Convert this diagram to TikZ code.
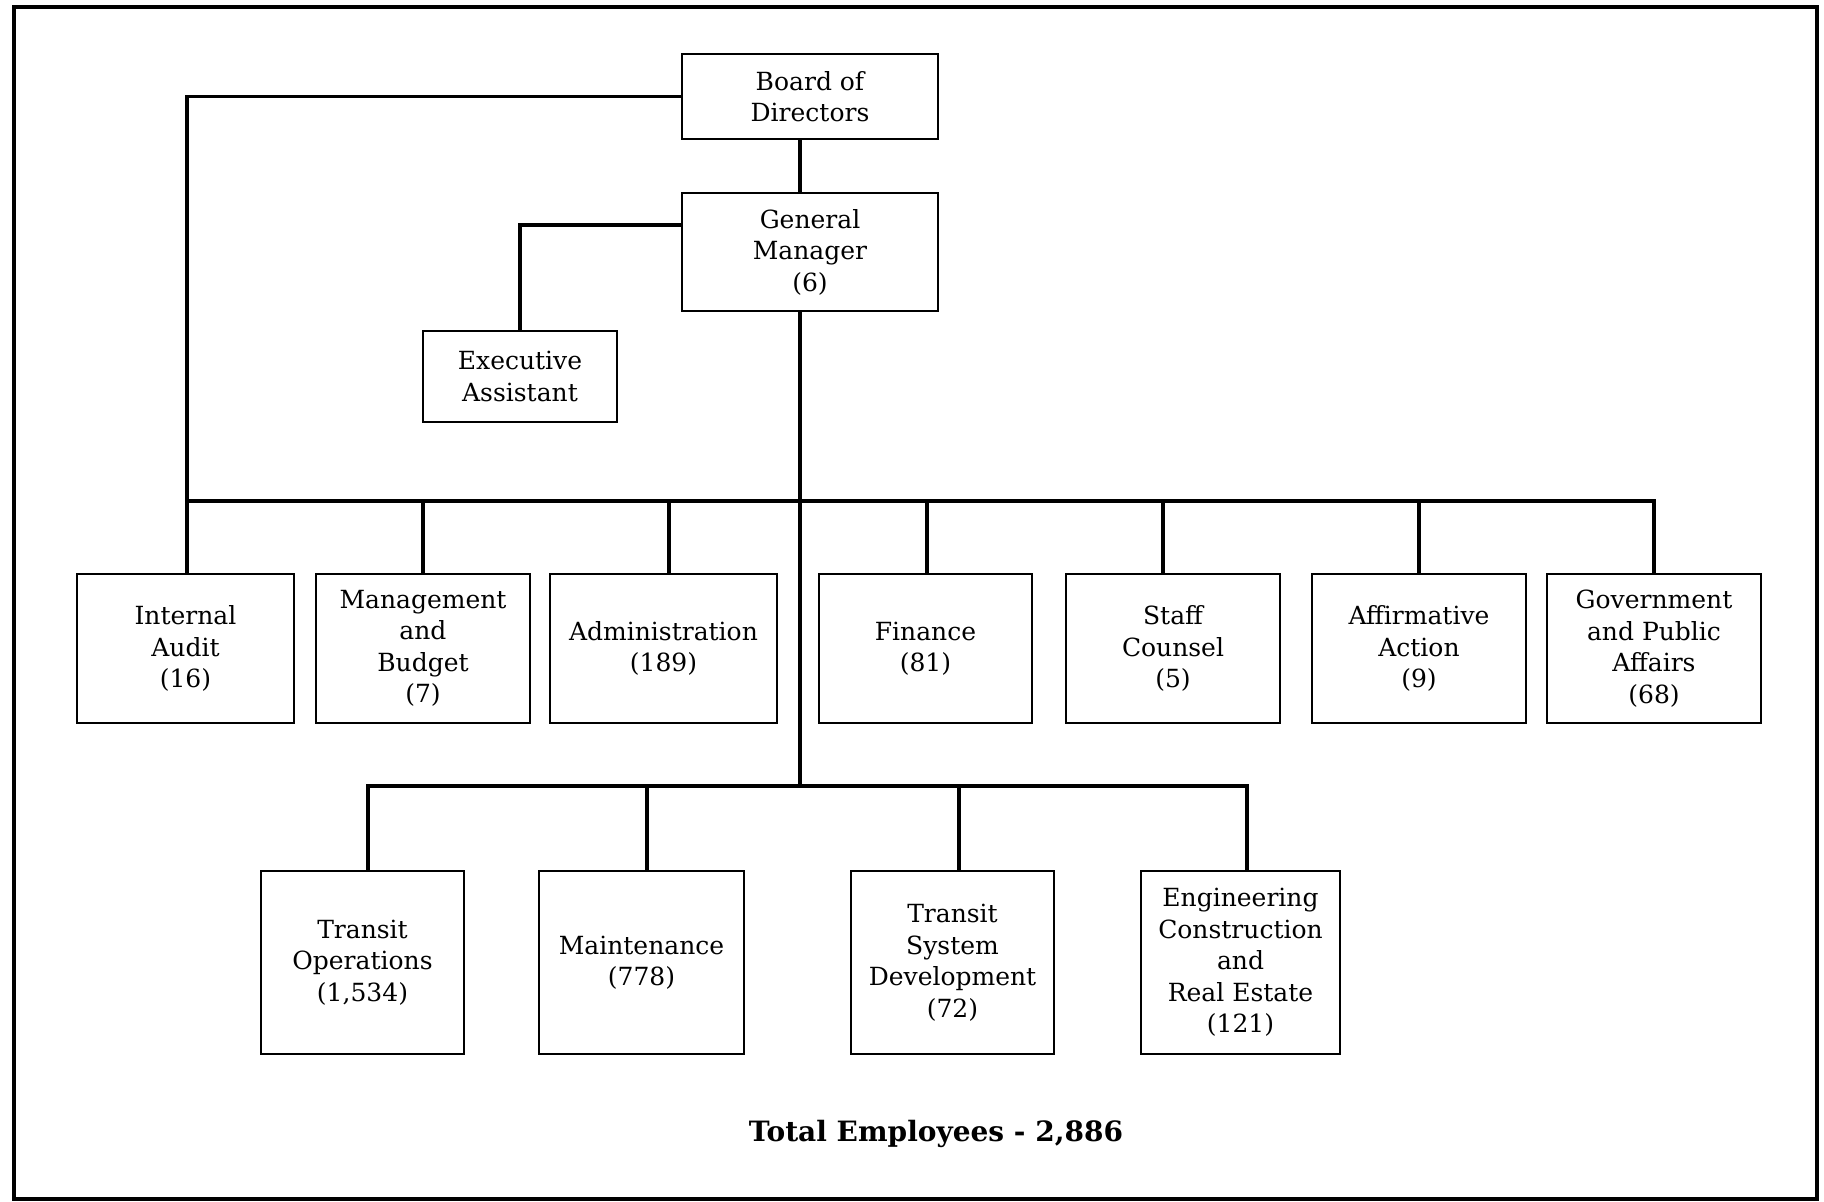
\documentclass[tikz,border=0pt]{standalone}
\usepackage{fontspec}
\setmainfont{DejaVu Serif}
\begin{document}
\begin{tikzpicture}[x=1pt,y=-1pt,
  box/.style={draw=black, line width=1.6pt, inner sep=0pt, align=center,
    font=\fontsize{25}{31.5}\selectfont},
  conn/.style={draw=black, line width=3.2pt},
  frame/.style={draw=black, line width=4pt}]
\useasboundingbox (0,0) rectangle (1824,1202);
\draw[frame] (14,7) rectangle (1817,1199);

% top nodes
\node[box, minimum width=256pt, minimum height=85pt] (board) at (810,96.5) {Board of\\Directors};
\node[box, minimum width=256pt, minimum height=118pt] (gm) at (810,252) {General\\Manager\\(6)};
\node[box, minimum width=194pt, minimum height=91pt] (exec) at (520,376.5) {Executive\\Assistant};

% first row
\tikzset{rowa/.style={box, minimum height=149pt}}
\node[rowa, minimum width=217pt] (ia) at (185.5,648.5) {Internal\\Audit\\(16)};
\node[rowa, minimum width=214pt] (mb) at (423,648.5) {Management\\and\\Budget\\(7)};
\node[rowa, minimum width=227pt] (adm) at (663.5,648.5) {Administration\\(189)};
\node[rowa, minimum width=213pt] (fin) at (925.5,648.5) {Finance\\(81)};
\node[rowa, minimum width=214pt] (sc) at (1173,648.5) {Staff\\Counsel\\(5)};
\node[rowa, minimum width=214pt] (aa) at (1419,648.5) {Affirmative\\Action\\(9)};
\node[rowa, minimum width=214pt] (gpa) at (1654,648.5) {Government\\and Public\\Affairs\\(68)};

% second row
\tikzset{rowb/.style={box, minimum height=183pt}}
\node[rowb, minimum width=203pt] (to) at (362.5,962.5) {Transit\\Operations\\(1,534)};
\node[rowb, minimum width=205pt] (mt) at (641.5,962.5) {Maintenance\\(778)};
\node[rowb, minimum width=203pt] (tsd) at (952.5,962.5) {Transit\\System\\Development\\(72)};
\node[rowb, minimum width=199pt] (eng) at (1240.5,962.5) {Engineering\\Construction\\and\\Real Estate\\(121)};

\node[font=\fontsize{28}{32}\selectfont\bfseries] (total) at (936,1134) {Total Employees - 2,886};

% bus coordinates
\coordinate (busL) at (187,501);
\coordinate (busR) at (1654,501);
\coordinate (busM) at (800,501);
\coordinate (bus2L) at (368,786);
\coordinate (bus2R) at (1247,786);
\coordinate (bus2M) at (800,786);

% connectors
\draw[conn] (board.south -| busM) -- (gm.north -| busM);
\draw[conn] (board.west) -| (ia.north -| busL);
\draw[conn] (gm.west |- 0,225) -| (exec.north -| 520,0);
\draw[conn] (gm.south -| busM) -- (bus2M);
\draw[conn] (busL) -- (busR) -- (gpa.north -| busR);
\draw[conn] (mb.north -| 423,0) -- (423,501);
\draw[conn] (adm.north -| 669,0) -- (669,501);
\draw[conn] (fin.north -| 927,0) -- (927,501);
\draw[conn] (sc.north -| 1163,0) -- (1163,501);
\draw[conn] (aa.north -| 1419,0) -- (1419,501);
\draw[conn] (to.north -| bus2L) -- (bus2L) -- (bus2R) -- (eng.north -| bus2R);
\draw[conn] (mt.north -| 647,0) -- (647,786);
\draw[conn] (tsd.north -| 959,0) -- (959,786);
\end{tikzpicture}
\end{document}
